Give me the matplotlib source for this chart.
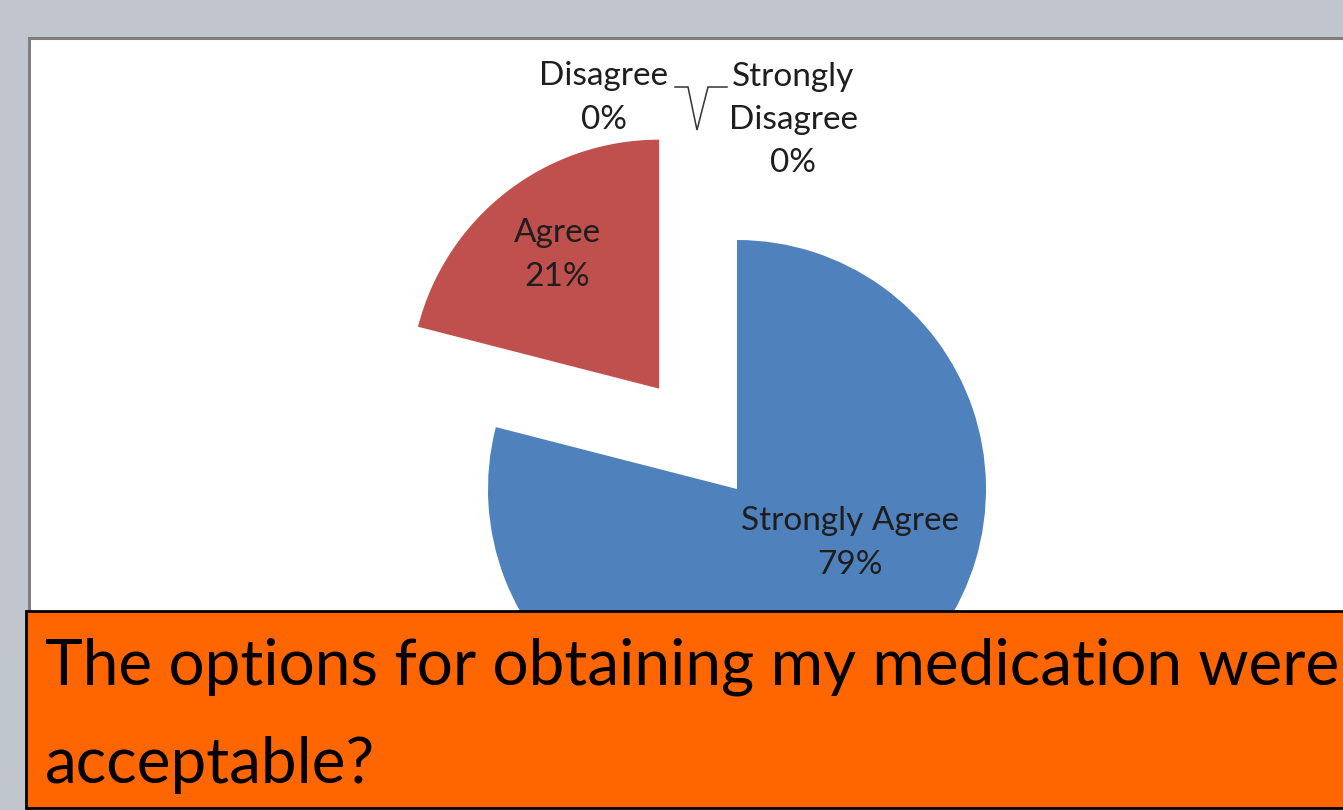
import matplotlib
matplotlib.use("Agg")
import matplotlib.pyplot as plt
from matplotlib.patches import Rectangle

# survey answers
categories = ["Strongly Agree", "Agree", "Disagree", "Strongly Disagree"]
percents = [79, 21, 0, 0]
colors = ["#4f81bd", "#c0504d", "#9bbb59", "#8064a2"]
explode_frac = [0, 0.51, 0, 0]

question_lines = ["The options for obtaining my medication were", "acceptable?"]

W, H = 1343, 810
plt.rcParams['font.family'] = ['Lato', 'DejaVu Sans']

fig = plt.figure(figsize=(W / 100, H / 100), dpi=100, facecolor="#c1c5ce")
ax = fig.add_axes([0, 0, 1, 1])
ax.set_facecolor("#c1c5ce")


def Y(y):
    # pixel rows counted from the top
    return H - y


# white chart panel with grey frame
ax.add_patch(Rectangle((28.5, Y(900)), 1400, 900 - 37.5, facecolor="white",
                       edgecolor="#7f7f7f", lw=2.2, zorder=1))

center = (737, Y(489))
radius = 249
# pie() takes the explode offset in data units when radius != 1
explode = [f * radius for f in explode_frac]
wedges, _ = ax.pie(percents, colors=colors, explode=explode, startangle=90,
                   counterclock=False, radius=radius, center=center, frame=True,
                   wedgeprops=dict(linewidth=0, edgecolor="none"))
for w in wedges:
    w.set_zorder(2)

label_pos = {
    "Strongly Agree": (850, 543),
    "Agree": (557, 255),
    "Disagree": (604, 98),
    "Strongly Disagree": (793, 120),
}
for cat, pct in zip(categories, percents):
    name = cat
    if cat == "Strongly Disagree":
        name = "Strongly\nDisagree"
    x, y = label_pos[cat]
    ax.text(x, Y(y), f"{name}\n{pct}%", ha="center", va="center",
            fontsize=24, color="#1e1e1e", linespacing=1.55, zorder=4)

# leader lines to the two empty slices
lx = [675, 688, 697, 708, 727]
ly = [87, 87, 130, 87, 87]
ax.plot(lx, [Y(v) for v in ly], color="#333333", lw=1.1, zorder=4,
        solid_joinstyle="miter")

# question banner
ax.add_patch(Rectangle((25.5, Y(807.5)), 1330, 807.5 - 611, facecolor="#ff6600",
                       edgecolor="black", lw=2.0, zorder=5))
ax.text(45, Y(685), question_lines[0], ha="left", va="baseline",
        fontsize=46, color="black", zorder=6)
ax.text(45, Y(783), question_lines[1], ha="left", va="baseline",
        fontsize=46, color="black", zorder=6)

ax.set_xlim(0, W)
ax.set_ylim(0, H)
ax.axis("off")

fig.savefig("out.png", dpi=100, facecolor=fig.get_facecolor())
